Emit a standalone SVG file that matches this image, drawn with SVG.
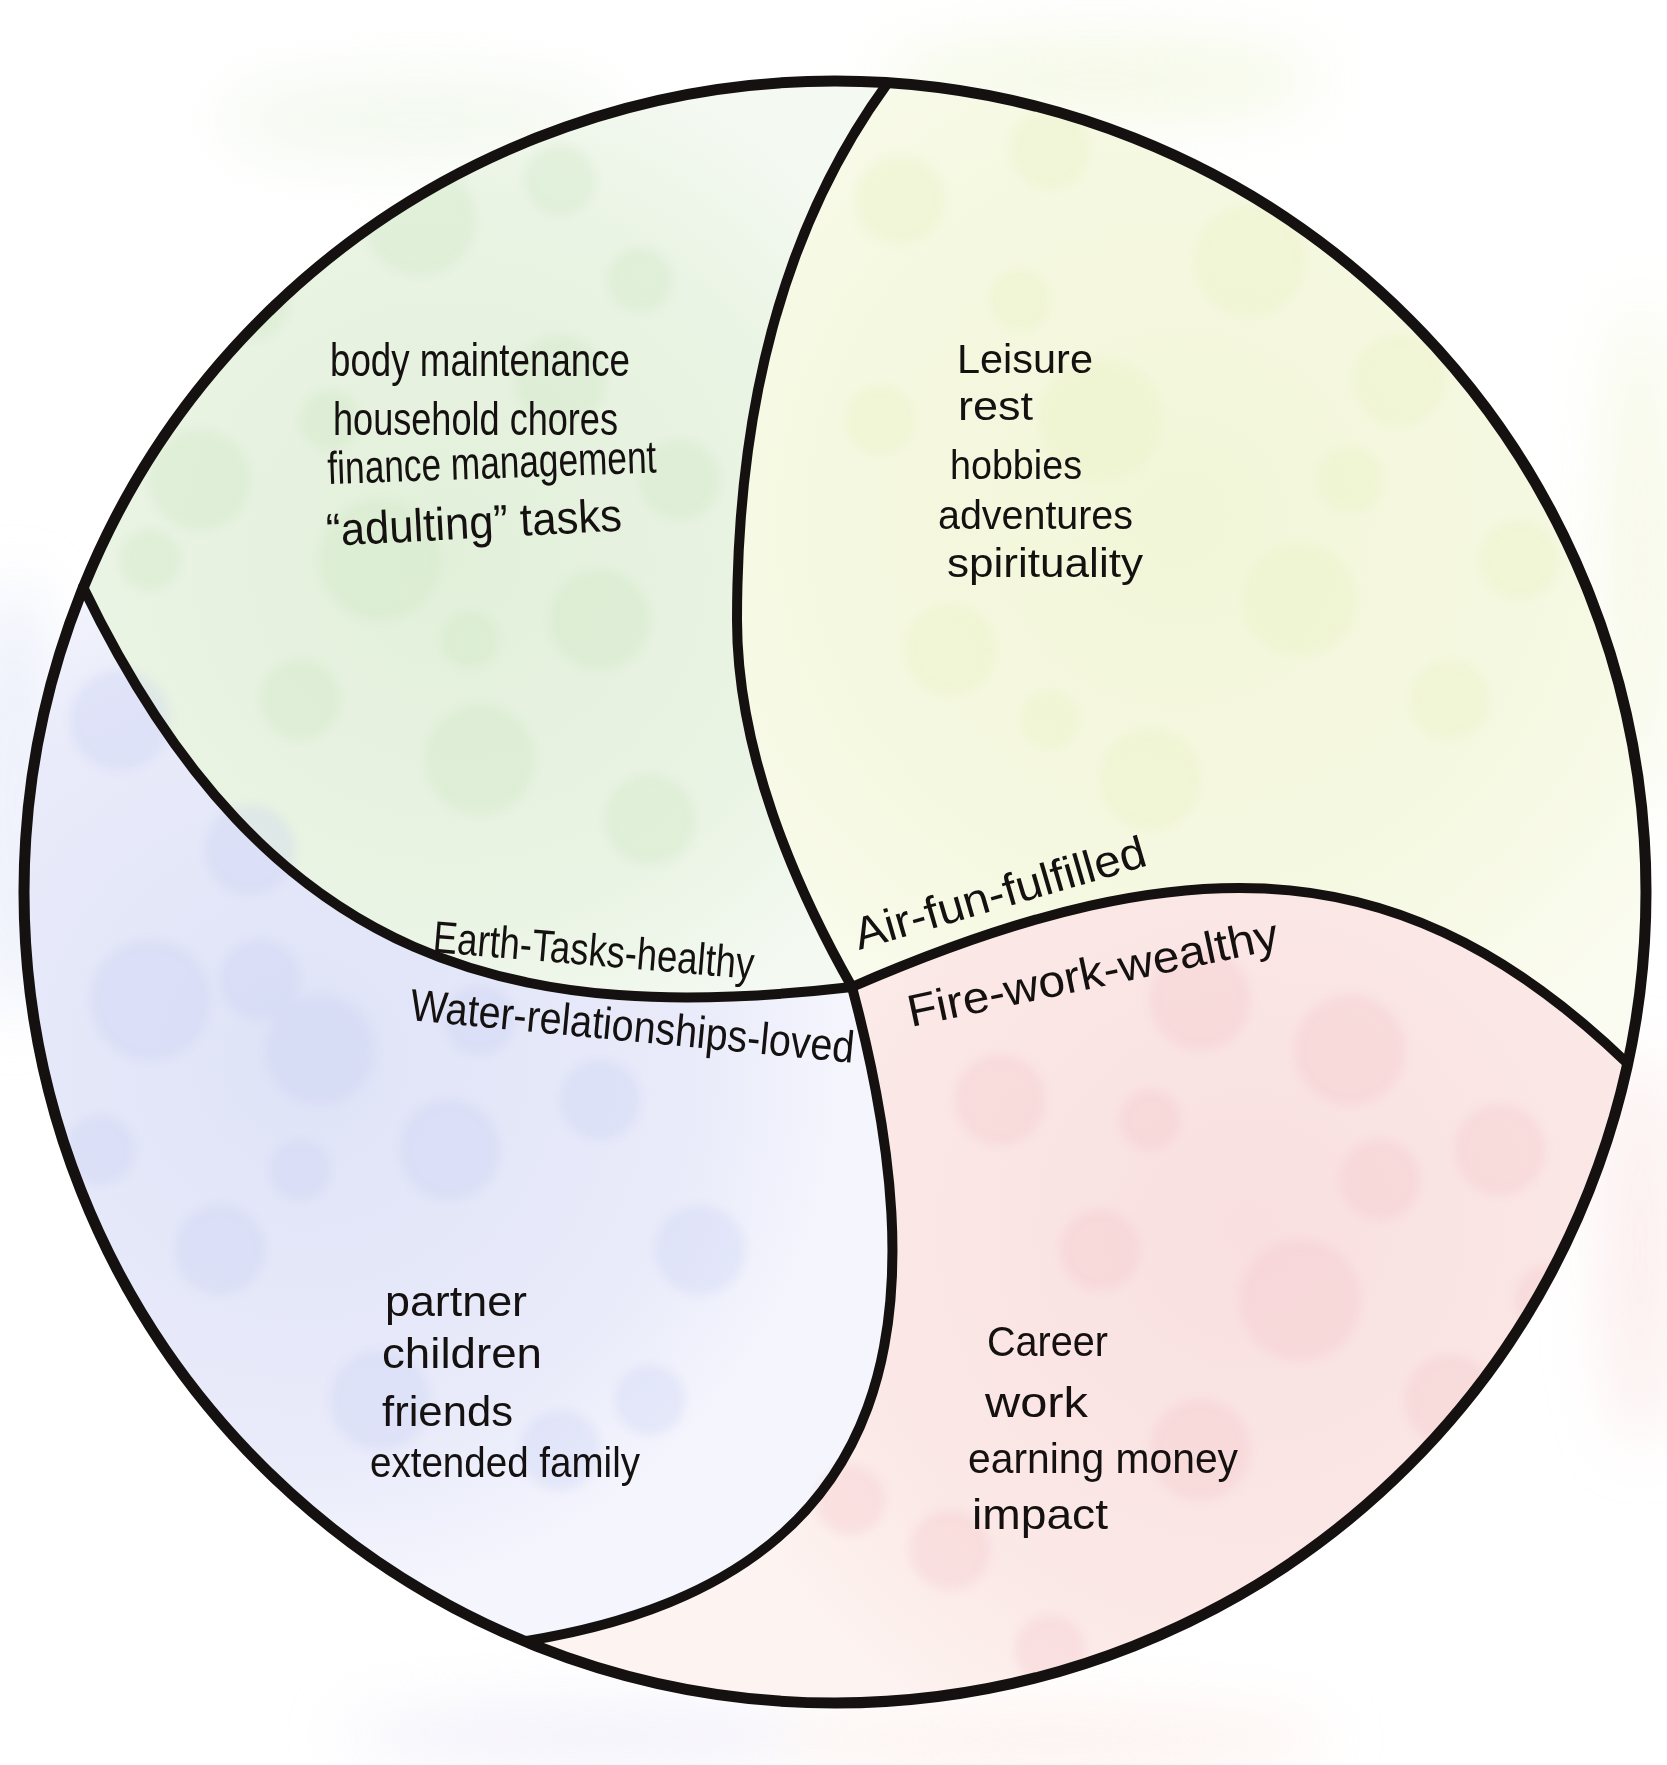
<svg xmlns="http://www.w3.org/2000/svg" width="1667" height="1765" viewBox="0 0 1667 1765">
<defs>
<style>
.line{fill:none;stroke:#141110;stroke-linecap:round;stroke-linejoin:round}
.outer{stroke-width:11}
.inner{stroke-width:10}
.hand{font-family:"Liberation Sans","DejaVu Sans",sans-serif;fill:#141110}
.list1{font-size:46px}
.list2{font-size:40px}
.list3{font-size:42px}
.mid{font-size:45px}
.bk{filter:url(#soft)}
</style>
<filter id="soft" x="-30%" y="-30%" width="160%" height="160%"><feGaussianBlur stdDeviation="5"/></filter>
<filter id="haze" x="-50%" y="-50%" width="200%" height="200%"><feGaussianBlur stdDeviation="30"/></filter>
<clipPath id="disc"><circle cx="835" cy="892" r="811"/></clipPath>
<radialGradient id="gEarth" cx="450" cy="560" r="520" gradientUnits="userSpaceOnUse">
<stop offset="0" stop-color="#e2f0da"/><stop offset="0.7" stop-color="#eaf4e4"/><stop offset="1" stop-color="#f4f9f1"/>
</radialGradient>
<radialGradient id="gAir" cx="1180" cy="520" r="620" gradientUnits="userSpaceOnUse">
<stop offset="0" stop-color="#f2f6d8"/><stop offset="0.7" stop-color="#f6f9e3"/><stop offset="1" stop-color="#fbfcf1"/>
</radialGradient>
<radialGradient id="gWater" cx="300" cy="1060" r="560" gradientUnits="userSpaceOnUse">
<stop offset="0" stop-color="#dfe3f7"/><stop offset="0.7" stop-color="#e9ebfa"/><stop offset="1" stop-color="#f5f6fd"/>
</radialGradient>
<radialGradient id="gFire" cx="1250" cy="1230" r="600" gradientUnits="userSpaceOnUse">
<stop offset="0" stop-color="#f9dfe0"/><stop offset="0.7" stop-color="#fbe9e7"/><stop offset="1" stop-color="#fdf4f1"/>
</radialGradient>
</defs>
<rect width="1667" height="1765" fill="#ffffff"/>
<g id="haze-outside" filter="url(#haze)" opacity="0.55">
<ellipse cx="420" cy="120" rx="200" ry="45" fill="#eaf4e3"/>
<ellipse cx="1100" cy="80" rx="220" ry="45" fill="#eef5d6"/>
<ellipse cx="1640" cy="560" rx="40" ry="260" fill="#f2f5d8"/>
<ellipse cx="15" cy="800" rx="45" ry="220" fill="#dfe3f8"/>
<ellipse cx="1640" cy="1250" rx="40" ry="200" fill="#fbe2e2"/>
<ellipse cx="600" cy="1735" rx="260" ry="35" fill="#ebe8f7"/>
<ellipse cx="1050" cy="1740" rx="280" ry="35" fill="#fbe8e2"/>
</g>
<g id="node-earth">
<path d="M83,587 A811,811 0 0 1 887,84 C779,232 737,420 737,620 C737,750 793,883 852,987 C522,1025 270,975 83,587 Z" fill="url(#gEarth)"/>
</g>
<g id="node-air">
<path d="M887,84 A811,811 0 0 1 1627,1063 C1411,856 1202,835 852,987 C793,883 737,750 737,620 C737,420 779,232 887,84 Z" fill="url(#gAir)"/>
</g>
<g id="node-fire">
<path d="M1627,1063 A811,811 0 0 1 526,1641 C919,1578 935,1300 852,987 C1202,835 1411,856 1627,1063 Z" fill="url(#gFire)"/>
</g>
<g id="node-water">
<path d="M526,1641 A811,811 0 0 1 83,587 C270,975 522,1025 852,987 C935,1300 919,1578 526,1641 Z" fill="url(#gWater)"/>
</g>
<g id="bokeh" clip-path="url(#disc)" opacity="0.28">
<g class="bk" fill="#c9e4bd">
<circle cx="250" cy="300" r="40"/><circle cx="420" cy="220" r="55"/><circle cx="560" cy="380" r="45"/>
<circle cx="200" cy="480" r="50"/><circle cx="380" cy="560" r="60"/><circle cx="600" cy="620" r="50"/>
<circle cx="480" cy="760" r="55"/><circle cx="650" cy="820" r="45"/><circle cx="300" cy="700" r="40"/>
<circle cx="560" cy="180" r="35"/><circle cx="150" cy="560" r="30"/><circle cx="680" cy="480" r="40"/>
<circle cx="330" cy="420" r="30"/><circle cx="640" cy="280" r="32"/><circle cx="470" cy="640" r="28"/>
</g>
<g class="bk" fill="#e7efbd">
<circle cx="900" cy="200" r="45"/><circle cx="1050" cy="150" r="40"/><circle cx="1250" cy="260" r="55"/>
<circle cx="1400" cy="380" r="45"/><circle cx="1100" cy="420" r="60"/><circle cx="1300" cy="600" r="55"/>
<circle cx="950" cy="650" r="45"/><circle cx="1450" cy="700" r="40"/><circle cx="1150" cy="780" r="50"/>
<circle cx="880" cy="420" r="35"/><circle cx="1520" cy="560" r="40"/><circle cx="1230" cy="120" r="35"/>
<circle cx="1020" cy="300" r="30"/><circle cx="1350" cy="480" r="32"/><circle cx="1050" cy="720" r="28"/>
</g>
<g class="bk" fill="#c4ccf2">
<circle cx="120" cy="720" r="50"/><circle cx="250" cy="850" r="45"/><circle cx="150" cy="1000" r="60"/>
<circle cx="320" cy="1050" r="55"/><circle cx="450" cy="1150" r="50"/><circle cx="220" cy="1250" r="45"/>
<circle cx="600" cy="1100" r="40"/><circle cx="700" cy="1250" r="45"/><circle cx="380" cy="1400" r="50"/>
<circle cx="560" cy="1450" r="40"/><circle cx="100" cy="1150" r="35"/><circle cx="260" cy="980" r="40"/>
<circle cx="480" cy="1020" r="35"/><circle cx="650" cy="1400" r="35"/><circle cx="300" cy="1170" r="30"/>
</g>
<g class="bk" fill="#f4c0c6">
<circle cx="1000" cy="1100" r="45"/><circle cx="1200" cy="1000" r="50"/><circle cx="1350" cy="1050" r="55"/>
<circle cx="1500" cy="1150" r="45"/><circle cx="1100" cy="1250" r="40"/><circle cx="1300" cy="1300" r="60"/>
<circle cx="1450" cy="1400" r="45"/><circle cx="1200" cy="1450" r="50"/><circle cx="950" cy="1550" r="40"/>
<circle cx="1050" cy="1650" r="35"/><circle cx="1550" cy="1300" r="35"/><circle cx="1380" cy="1180" r="40"/>
<circle cx="850" cy="1500" r="35"/><circle cx="1150" cy="1120" r="30"/>
</g>
</g>
<g id="connectors">
<circle class="line outer" cx="835" cy="892" r="811"/>
<path class="line inner" d="M887,84 C779,232 737,420 737,620 C737,750 793,883 852,987"/>
<path class="line inner" d="M83,587 C270,975 522,1025 852,987"/>
<path class="line inner" d="M852,987 C1202,835 1411,856 1627,1063"/>
<path class="line inner" d="M852,987 C935,1300 919,1578 526,1641"/>
</g>
<g id="text-earth" class="hand list1">
<text x="330" y="376" textLength="300" lengthAdjust="spacingAndGlyphs">body maintenance</text>
<text x="333" y="435" textLength="285" lengthAdjust="spacingAndGlyphs">household chores</text>
<text x="328" y="484" textLength="329" lengthAdjust="spacingAndGlyphs" transform="rotate(-2 328 484)">finance management</text>
<text x="327" y="546" textLength="296" lengthAdjust="spacingAndGlyphs" transform="rotate(-3 327 546)">“adulting” tasks</text>
</g>
<g id="text-air" class="hand list2">
<text x="957" y="373" textLength="136" lengthAdjust="spacingAndGlyphs">Leisure</text>
<text x="958" y="420" textLength="75" lengthAdjust="spacingAndGlyphs">rest</text>
<text x="950" y="479" textLength="132" lengthAdjust="spacingAndGlyphs">hobbies</text>
<text x="938" y="529" textLength="195" lengthAdjust="spacingAndGlyphs">adventures</text>
<text x="947" y="577" textLength="196" lengthAdjust="spacingAndGlyphs">spirituality</text>
</g>
<g id="text-water" class="hand list3">
<text x="385" y="1316" textLength="142" lengthAdjust="spacingAndGlyphs">partner</text>
<text x="382" y="1368" textLength="160" lengthAdjust="spacingAndGlyphs">children</text>
<text x="382" y="1426" textLength="131" lengthAdjust="spacingAndGlyphs">friends</text>
<text x="370" y="1477" textLength="270" lengthAdjust="spacingAndGlyphs">extended family</text>
</g>
<g id="text-fire" class="hand list3">
<text x="987" y="1356" textLength="121" lengthAdjust="spacingAndGlyphs">Career</text>
<text x="985" y="1417" textLength="103" lengthAdjust="spacingAndGlyphs">work</text>
<text x="968" y="1473" textLength="270" lengthAdjust="spacingAndGlyphs">earning money</text>
<text x="972" y="1529" textLength="136" lengthAdjust="spacingAndGlyphs">impact</text>
</g>
<g id="labels" class="hand mid">
<text x="432" y="952" textLength="322" lengthAdjust="spacingAndGlyphs" transform="rotate(4.8 432 952)">Earth-Tasks-healthy</text>
<text x="409" y="1020" textLength="446" lengthAdjust="spacingAndGlyphs" transform="rotate(5.5 409 1020)">Water-relationships-loved</text>
<text x="859" y="950" textLength="302" lengthAdjust="spacingAndGlyphs" transform="rotate(-16.3 859 950)">Air-fun-fulfilled</text>
<text x="911" y="1027" textLength="378" lengthAdjust="spacingAndGlyphs" transform="rotate(-12 911 1027)">Fire-work-wealthy</text>
</g>
</svg>
